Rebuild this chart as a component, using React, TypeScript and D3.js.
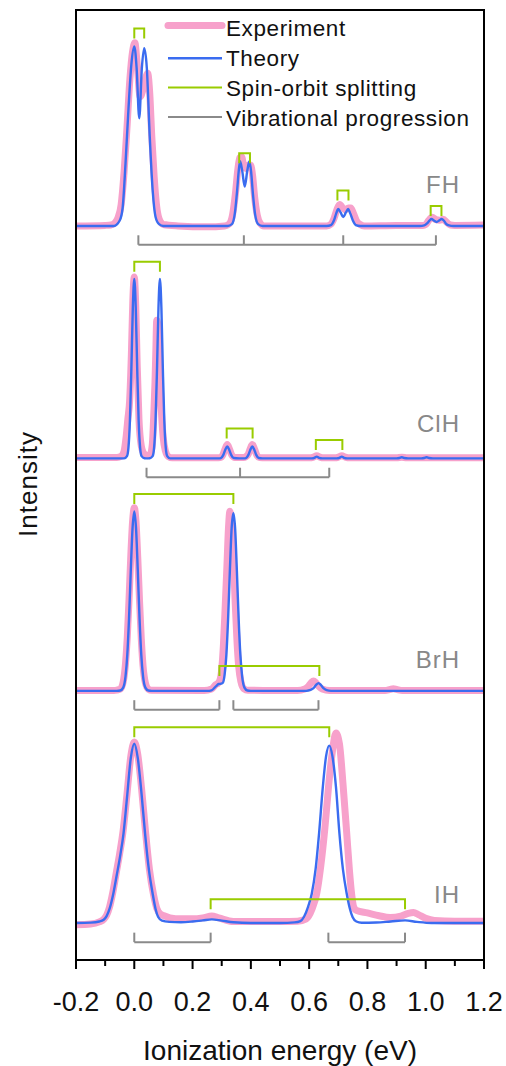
import React from "react";
import * as d3 from "d3";

type P = [number, number];

// ---------- data ----------
const molecules = ["FH", "ClH", "BrH", "IH"];
const panelOffsets = [3.885, 2.59, 1.295, 0];

const majorTicks = [-0.2, 0, 0.2, 0.4, 0.6, 0.8, 1.0, 1.2];
const minorTicks = [-0.1, 0.1, 0.3, 0.5, 0.7, 0.9, 1.1];
const tickLabels = ["-0.2", "0.0", "0.2", "0.4", "0.6", "0.8", "1.0", "1.2"];
const legendLabels = ["Experiment", "Theory", "Spin-orbit splitting", "Vibrational progression"];

const fhTheory: P[] = [
  [-0.2, 0], [-0.07, 0], [-0.05, 0.03], [-0.04, 0.1], [-0.03, 0.35], [-0.02, 0.65], [-0.01, 0.9], [0, 1.0],
  [0.008, 0.88], [0.017, 0.6], [0.026, 0.88], [0.034, 0.99], [0.043, 0.88], [0.053, 0.5], [0.063, 0.2],
  [0.073, 0.05], [0.085, 0.01], [0.1, 0],
  [0.32, 0], [0.335, 0.01], [0.345, 0.07], [0.353, 0.2], [0.358, 0.3], [0.363, 0.36], [0.37, 0.31],
  [0.379, 0.22], [0.388, 0.31], [0.395, 0.36], [0.401, 0.3], [0.407, 0.18], [0.415, 0.06], [0.425, 0.01], [0.44, 0],
  [0.66, 0], [0.675, 0.005], [0.685, 0.03], [0.693, 0.07], [0.7, 0.094], [0.708, 0.075], [0.717, 0.05],
  [0.726, 0.075], [0.734, 0.094], [0.741, 0.07], [0.75, 0.03], [0.76, 0.005], [0.775, 0],
  [0.98, 0], [0.995, 0.003], [1.005, 0.015], [1.013, 0.03], [1.02, 0.039], [1.028, 0.03], [1.037, 0.022],
  [1.046, 0.03], [1.055, 0.039], [1.062, 0.03], [1.07, 0.012], [1.08, 0.003], [1.095, 0], [1.2, 0],
];
const fhExp: P[] = [
  [-0.2, 0], [-0.1, 0.003], [-0.08, 0.005], [-0.065, 0.02], [-0.055, 0.05], [-0.045, 0.12], [-0.035, 0.3],
  [-0.025, 0.55], [-0.015, 0.82], [-0.006, 0.97], [0.002, 1.02], [0.01, 0.9], [0.02, 0.72], [0.03, 0.76],
  [0.04, 0.83], [0.046, 0.85], [0.053, 0.74], [0.06, 0.5], [0.068, 0.28], [0.076, 0.12], [0.085, 0.04],
  [0.1, 0.008], [0.15, 0], [0.25, -0.005], [0.31, 0],
  [0.325, 0.01], [0.337, 0.06], [0.347, 0.18], [0.355, 0.31], [0.362, 0.38], [0.368, 0.385], [0.375, 0.34],
  [0.383, 0.32], [0.392, 0.34], [0.399, 0.34], [0.406, 0.28], [0.413, 0.16], [0.422, 0.06], [0.432, 0.015], [0.445, 0],
  [0.55, 0], [0.66, 0], [0.675, 0.01], [0.685, 0.04], [0.695, 0.09], [0.705, 0.12], [0.715, 0.1], [0.725, 0.09],
  [0.735, 0.1], [0.743, 0.1], [0.752, 0.07], [0.762, 0.03], [0.775, 0.008], [0.79, 0],
  [0.9, 0.003], [0.99, 0.002], [1.0, 0.008], [1.01, 0.03], [1.022, 0.048], [1.035, 0.035], [1.048, 0.032],
  [1.06, 0.037], [1.072, 0.02], [1.085, 0.005], [1.1, 0.003], [1.2, 0.005],
];

const clhTheory: P[] = [
  [-0.2, 0], [-0.035, 0], [-0.025, 0.013], [-0.02, 0.06], [-0.015, 0.21], [-0.01, 0.5], [-0.005, 0.84], [0, 1.0],
  [0.005, 0.84], [0.01, 0.5], [0.015, 0.21], [0.02, 0.06], [0.025, 0.013], [0.035, 0.001], [0.044, 0],
  [0.053, 0.001], [0.063, 0.013], [0.068, 0.06], [0.073, 0.21], [0.078, 0.5], [0.083, 0.84], [0.088, 1.0],
  [0.093, 0.84], [0.098, 0.5], [0.103, 0.21], [0.108, 0.06], [0.113, 0.013], [0.123, 0],
  [0.29, 0], [0.297, 0.002], [0.306, 0.021], [0.312, 0.047], [0.319, 0.067], [0.326, 0.047], [0.332, 0.021],
  [0.341, 0.002], [0.36, 0], [0.376, 0], [0.383, 0.002], [0.392, 0.021], [0.398, 0.047], [0.405, 0.067],
  [0.412, 0.047], [0.418, 0.021], [0.427, 0.002], [0.44, 0],
  [0.61, 0], [0.618, 0.003], [0.626, 0.01], [0.634, 0.003], [0.645, 0], [0.695, 0], [0.704, 0.003],
  [0.712, 0.01], [0.72, 0.003], [0.73, 0],
  [0.9, 0], [0.91, 0.002], [0.918, 0.006], [0.926, 0.002], [0.94, 0], [0.985, 0], [0.995, 0.002],
  [1.003, 0.006], [1.011, 0.002], [1.025, 0], [1.2, 0],
];
const clhExp: P[] = [
  [-0.2, 0.005], [-0.1, 0.005], [-0.06, 0.005], [-0.045, 0.012], [-0.035, 0.04], [-0.028, 0.12], [-0.022, 0.22],
  [-0.016, 0.32], [-0.01, 0.58], [-0.005, 0.88], [0, 1.01], [0.005, 0.85], [0.01, 0.52], [0.016, 0.22],
  [0.024, 0.07], [0.034, 0.025], [0.045, 0.015], [0.055, 0.025], [0.062, 0.08], [0.067, 0.25], [0.071, 0.42],
  [0.074, 0.6], [0.077, 0.77], [0.081, 0.74], [0.086, 0.55], [0.092, 0.3], [0.099, 0.12], [0.107, 0.04],
  [0.117, 0.01], [0.13, 0.003],
  [0.28, 0.003], [0.295, 0.005], [0.304, 0.02], [0.311, 0.05], [0.319, 0.078], [0.327, 0.05], [0.334, 0.02],
  [0.345, 0.005], [0.375, 0.005], [0.39, 0.02], [0.397, 0.05], [0.405, 0.078], [0.413, 0.05], [0.42, 0.02],
  [0.43, 0.005], [0.45, 0.003],
  [0.6, 0.003], [0.615, 0.007], [0.626, 0.015], [0.637, 0.007], [0.65, 0.003], [0.69, 0.003], [0.7, 0.007],
  [0.712, 0.015], [0.724, 0.007], [0.74, 0.003], [0.9, 0.003], [0.918, 0.007], [0.935, 0.003], [1.2, 0.003],
];

const brhTheory: P[] = [
  [-0.2, 0], [-0.06, 0], [-0.048, 0.002], [-0.038, 0.018], [-0.03, 0.082], [-0.024, 0.2], [-0.018, 0.405],
  [-0.012, 0.67], [-0.006, 0.905], [0, 1.0], [0.006, 0.905], [0.012, 0.67], [0.018, 0.405], [0.024, 0.2],
  [0.03, 0.082], [0.038, 0.018], [0.048, 0.002], [0.06, 0],
  [0.25, 0], [0.265, 0.003], [0.28, 0.025], [0.29, 0.038], [0.298, 0.04], [0.304, 0.045], [0.31, 0.09],
  [0.316, 0.2], [0.322, 0.405], [0.328, 0.67], [0.334, 0.905], [0.34, 0.99], [0.346, 0.905], [0.352, 0.67],
  [0.358, 0.405], [0.364, 0.2], [0.37, 0.082], [0.378, 0.018], [0.388, 0.002], [0.4, 0],
  [0.59, 0], [0.605, 0.005], [0.615, 0.015], [0.624, 0.033], [0.632, 0.043], [0.64, 0.033], [0.649, 0.015],
  [0.66, 0.004], [0.675, 0], [1.2, 0],
];
const brhExp: P[] = [
  [-0.2, 0.002], [-0.07, 0.002], [-0.06, 0.004], [-0.048, 0.01], [-0.038, 0.05], [-0.03, 0.155], [-0.024, 0.3],
  [-0.018, 0.51], [-0.012, 0.75], [-0.006, 0.94], [0, 1.02], [0.006, 0.94], [0.012, 0.74], [0.018, 0.5],
  [0.024, 0.29], [0.03, 0.14], [0.038, 0.045], [0.048, 0.01], [0.06, 0.003],
  [0.24, 0.002], [0.265, 0.01], [0.28, 0.035], [0.287, 0.042], [0.294, 0.06], [0.3, 0.12], [0.306, 0.26],
  [0.312, 0.47], [0.318, 0.7], [0.323, 0.9], [0.328, 1.0], [0.334, 0.93], [0.34, 0.74], [0.346, 0.5],
  [0.352, 0.29], [0.358, 0.14], [0.366, 0.05], [0.376, 0.012], [0.39, 0.003],
  [0.56, 0.002], [0.585, 0.01], [0.597, 0.025], [0.607, 0.045], [0.615, 0.055], [0.623, 0.045], [0.633, 0.025],
  [0.645, 0.01], [0.67, 0.002],
  [0.86, 0.002], [0.878, 0.008], [0.889, 0.012], [0.9, 0.008], [0.92, 0.002], [1.2, 0.002],
];

const ihTheory: P[] = [
  [-0.2, 0.002], [-0.15, 0.004], [-0.12, 0.01], [-0.105, 0.02], [-0.095, 0.04], [-0.085, 0.08], [-0.072, 0.165],
  [-0.06, 0.27], [-0.048, 0.38], [-0.037, 0.5], [-0.025, 0.7], [-0.012, 0.92], [0, 1.0], [0.012, 0.92],
  [0.025, 0.72], [0.037, 0.5], [0.05, 0.3], [0.063, 0.165], [0.073, 0.08], [0.082, 0.035], [0.095, 0.015],
  [0.12, 0.008], [0.16, 0.006], [0.2, 0.01], [0.235, 0.016], [0.266, 0.022], [0.3, 0.015], [0.34, 0.006],
  [0.4, 0.002], [0.5, 0.002], [0.55, 0.005],
  [0.57, 0.012], [0.582, 0.035], [0.596, 0.09], [0.609, 0.165], [0.622, 0.3], [0.634, 0.5], [0.647, 0.76],
  [0.658, 0.93], [0.669, 0.99], [0.68, 0.93], [0.692, 0.76], [0.704, 0.5], [0.716, 0.3], [0.729, 0.165],
  [0.74, 0.08], [0.749, 0.035], [0.762, 0.01], [0.78, 0.003], [0.83, 0.004], [0.88, 0.01], [0.929, 0.016],
  [0.97, 0.008], [1.02, 0.002], [1.2, 0.002],
];
const ihExp: P[] = [
  [-0.2, -0.008], [-0.15, -0.004], [-0.12, 0.008], [-0.105, 0.022], [-0.095, 0.045], [-0.085, 0.09],
  [-0.074, 0.17], [-0.062, 0.28], [-0.05, 0.39], [-0.038, 0.52], [-0.025, 0.72], [-0.012, 0.93], [0, 1.01],
  [0.012, 0.94], [0.025, 0.75], [0.038, 0.52], [0.052, 0.3], [0.066, 0.16], [0.078, 0.08], [0.09, 0.05],
  [0.105, 0.04], [0.123, 0.03], [0.16, 0.025], [0.2, 0.025], [0.235, 0.03], [0.266, 0.04], [0.29, 0.03],
  [0.34, 0.01], [0.4, 0.01], [0.5, 0.01], [0.56, 0.012],
  [0.59, 0.025], [0.61, 0.08], [0.626, 0.165], [0.64, 0.32], [0.654, 0.53], [0.667, 0.77], [0.68, 0.96],
  [0.692, 1.06], [0.704, 1.0], [0.716, 0.78], [0.729, 0.5], [0.738, 0.3], [0.746, 0.16], [0.753, 0.09],
  [0.762, 0.072], [0.8, 0.058], [0.84, 0.042], [0.878, 0.032], [0.915, 0.04], [0.94, 0.055], [0.958, 0.06],
  [0.975, 0.048], [1.0, 0.028], [1.03, 0.016], [1.1, 0.012], [1.2, 0.012],
];

const theorySeries = [fhTheory, clhTheory, brhTheory, ihTheory];
const experimentSeries = [fhExp, clhExp, brhExp, ihExp];

// spin-orbit brackets: [start eV, end eV, level]
const spinOrbit: [number, number, number][][] = [
  [[0, 0.034, 1.1], [0.36, 0.397, 0.405], [0.697, 0.735, 0.197], [1.017, 1.054, 0.111]],
  [[0, 0.088, 1.095], [0.317, 0.406, 0.167], [0.623, 0.714, 0.102]],
  [[0, 0.34, 1.096], [0.292, 0.635, 0.139]],
  [[0, 0.669, 1.092], [0.262, 0.929, 0.134]],
];
// vibrational progressions: groups of level positions (eV)
const vibrational: number[][][] = [
  [[0.014, 0.376, 0.717, 1.035]],
  [[0.042, 0.363, 0.669]],
  [[0, 0.292], [0.34, 0.632]],
  [[0, 0.262], [0.666, 0.929]],
];
const vibLevel = -0.105;

// ---------- layout / style ----------
const W = 506, H = 1066;
const L = 76, R = 484, T = 10, B = 960;
const labelLift = [33, 26, 23, 20];
const COL_EXP = "#f7a1cb";
const COL_TH = "#3a6cf0";
const COL_SO = "#99cc00";
const COL_VIB = "#8a8a8a";
const FONT = "'Liberation Sans', Arial, Helvetica, sans-serif";

export default function App() {
  const x = d3.scaleLinear().domain([-0.2, 1.2]).range([L, R]);
  const y = d3.scaleLinear().domain([-0.2045, 5.088]).range([B, T]);

  const mkLine = (off: number) =>
    d3.line<P>().x((d) => x(d[0])).y((d) => y(d[1] + off)).curve(d3.curveMonotoneX);

  const legendRows = [28.7, 58, 88, 118];
  const legendLineY = [25.5, 58.3, 87.5, 117];
  const legendColors = [COL_EXP, COL_TH, COL_SO, COL_VIB];
  const legendWidths = [7, 2.4, 2, 2];

  return (
    <svg
      width={W}
      height={H}
      viewBox={`0 0 ${W} ${H}`}
      style={{ position: "absolute", left: 0, top: 0, display: "block", background: "#fff" }}
      fontFamily={FONT}
    >
      <defs>
        <clipPath id="plotclip">
          <rect x={L} y={T} width={R - L} height={B - T} />
        </clipPath>
      </defs>
      <rect x={0} y={0} width={W} height={H} fill="#fff" />

      <g clipPath="url(#plotclip)">
        {molecules.map((m, i) => {
          const off = panelOffsets[i];
          const line = mkLine(off);
          return (
            <g key={m}>
              <path d={line(experimentSeries[i]) || ""} fill="none" stroke={COL_EXP} strokeWidth={7}
                strokeLinejoin="round" strokeLinecap="round" />
              <path d={line(theorySeries[i]) || ""} fill="none" stroke={COL_TH} strokeWidth={2.4}
                strokeLinejoin="round" />
              {spinOrbit[i].map(([s, e, lv], k) => {
                const yy = y(lv + off);
                return (
                  <path key={"so" + k}
                    d={`M${x(s)},${yy + 10}V${yy}H${x(e)}V${yy + 10}`}
                    fill="none" stroke={COL_SO} strokeWidth={2} />
                );
              })}
              {vibrational[i].map((grp, k) => {
                const yy = y(vibLevel + off);
                const x0 = x(grp[0]);
                const x1 = x(grp[grp.length - 1]);
                return (
                  <g key={"vb" + k} stroke={COL_VIB} strokeWidth={2} fill="none">
                    <line x1={x0} x2={x1} y1={yy} y2={yy} />
                    {grp.map((p, j) => (
                      <line key={j} x1={x(p)} x2={x(p)} y1={yy} y2={yy - 9.5} />
                    ))}
                  </g>
                );
              })}
              <text x={460} y={y(off) - labelLift[i]} textAnchor="end" fontSize={24}
                letterSpacing={1} fill="#888">
                {m}
              </text>
            </g>
          );
        })}
      </g>

      {/* legend */}
      {legendLabels.map((lab, i) => (
        <g key={lab}>
          <line x1={168} x2={222} y1={legendLineY[i]} y2={legendLineY[i]} stroke={legendColors[i]}
            strokeWidth={legendWidths[i]} strokeLinecap={i === 0 ? "round" : "butt"} />
          <text x={226} y={legendRows[i]} dominantBaseline="central" fontSize={22.5} letterSpacing={0.6}
            fill="#111">
            {lab}
          </text>
        </g>
      ))}

      {/* frame */}
      <rect x={L} y={T} width={R - L} height={B - T} fill="none" stroke="#000" strokeWidth={2} />

      {/* x ticks */}
      {majorTicks.map((t, i) => (
        <g key={"M" + i}>
          <line x1={x(t)} x2={x(t)} y1={B} y2={B + 9} stroke="#000" strokeWidth={2} />
          <text x={x(t)} y={1011} textAnchor="middle" fontSize={27} fill="#111">
            {tickLabels[i]}
          </text>
        </g>
      ))}
      {minorTicks.map((t, i) => (
        <line key={"m" + i} x1={x(t)} x2={x(t)} y1={B} y2={B + 6} stroke="#000" strokeWidth={2} />
      ))}

      <text x={280} y={1060} textAnchor="middle" fontSize={28} fill="#111">
        Ionization energy (eV)
      </text>
      <text transform="translate(37,484) rotate(-90)" textAnchor="middle" fontSize={26} letterSpacing={1}
        fill="#111">
        Intensity
      </text>
    </svg>
  );
}
